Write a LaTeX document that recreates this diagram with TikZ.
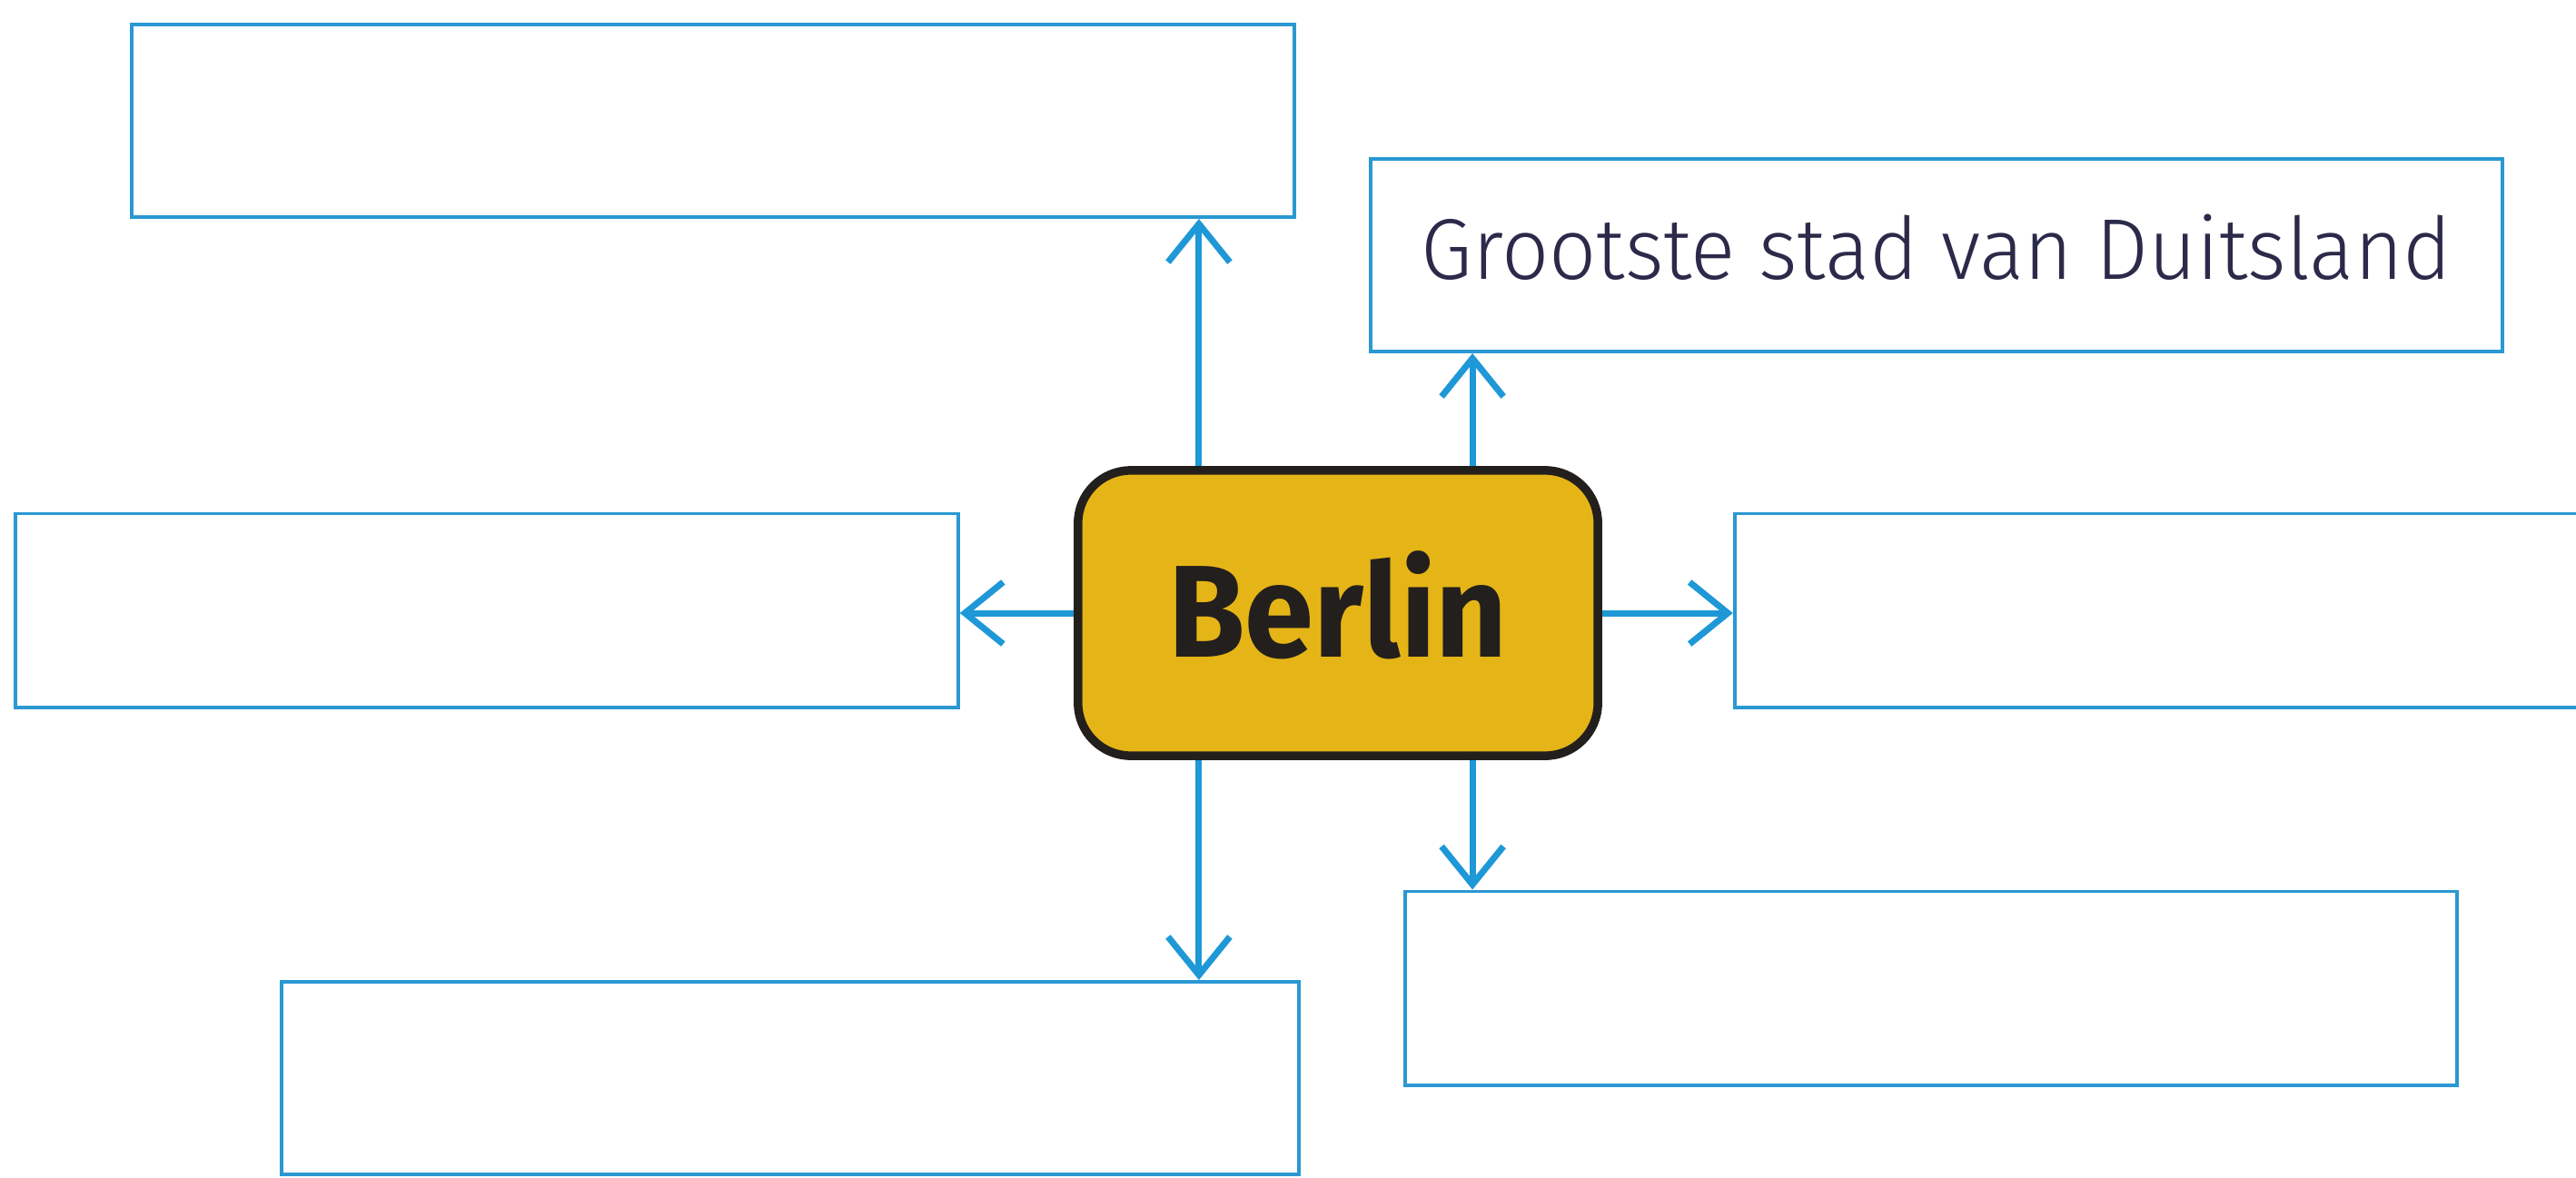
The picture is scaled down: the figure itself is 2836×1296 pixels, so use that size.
\documentclass[tikz,border=0pt]{standalone}
\usepackage{fontspec}
\usetikzlibrary{arrows.meta}
\newfontfamily\berlinfont[FakeStretch=0.95]{Fira Sans}
\newfontfamily\handfont[FakeStretch=0.965]{Fira Sans Light}
\definecolor{boxblue}{HTML}{2A98D2}
\definecolor{arrowblue}{HTML}{1E98D7}
\definecolor{signgold}{HTML}{E5B517}
\definecolor{signedge}{HTML}{231F1C}
\definecolor{handink}{HTML}{2B2A4A}
\tikzset{
  answerbox/.style={draw=boxblue, line width=1.1pt, fill=white, rectangle, inner sep=0pt},
  citybox/.style={draw=signedge, fill=signgold, line width=2.7pt, rounded corners=0.58cm,
    minimum width=5.72cm, minimum height=3.14cm, inner sep=0pt,
    font=\berlinfont\bfseries\fontsize{41}{41}\selectfont, text=signedge},
  arr/.style={draw=arrowblue, line width=2pt, -{Straight Barb[length=0.42cm, width=0.68cm, line width=2pt]}}
}
\begin{document}
\begin{tikzpicture}[x=0.01cm, y=-0.01cm]
\useasboundingbox (0,0) rectangle (2836,1296);
\clip (0,0) rectangle (2836,1296);
\fill[white] (0,0) rectangle (2836,1296);
\node[answerbox, minimum width=12.80cm, minimum height=2.12cm] (tl) at (785,133) {};
\node[answerbox, minimum width=12.45cm, minimum height=2.12cm, text=handink,
      font=\handfont\fontsize{27}{27}\selectfont] (tr) at (2132,281)
      {\raisebox{0.09cm}[\height][\depth]{Grootste stad van Duitsland}};
\node[answerbox, minimum width=10.37cm, minimum height=2.13cm] (lf) at (536,672) {};
\node[answerbox, minimum width=9.50cm, minimum height=2.13cm] (rt) at (2385,672) {};
\node[answerbox, minimum width=11.19cm, minimum height=2.12cm] (bl) at (870,1187) {};
\node[answerbox, minimum width=11.58cm, minimum height=2.13cm] (br) at (2126,1088) {};
\node[citybox] (city) at (1473,675) {\raisebox{0.09cm}[\height][\depth]{Berlin}};
\draw[arr] ([xshift=-1.53cm]city.north) -- ([xshift=-1.53cm]city.north |- tl.south);
\draw[arr] ([xshift=1.48cm]city.north) -- ([xshift=1.48cm]city.north |- tr.south);
\draw[arr] ([xshift=-1.53cm]city.south) -- ([xshift=-1.53cm]city.south |- bl.north);
\draw[arr] ([xshift=1.48cm]city.south) -- ([xshift=1.48cm]city.south |- br.north);
\draw[arr] (city.west) -- (city.west -| lf.east);
\draw[arr] (city.east) -- (city.east -| rt.west);
\end{tikzpicture}
\end{document}
